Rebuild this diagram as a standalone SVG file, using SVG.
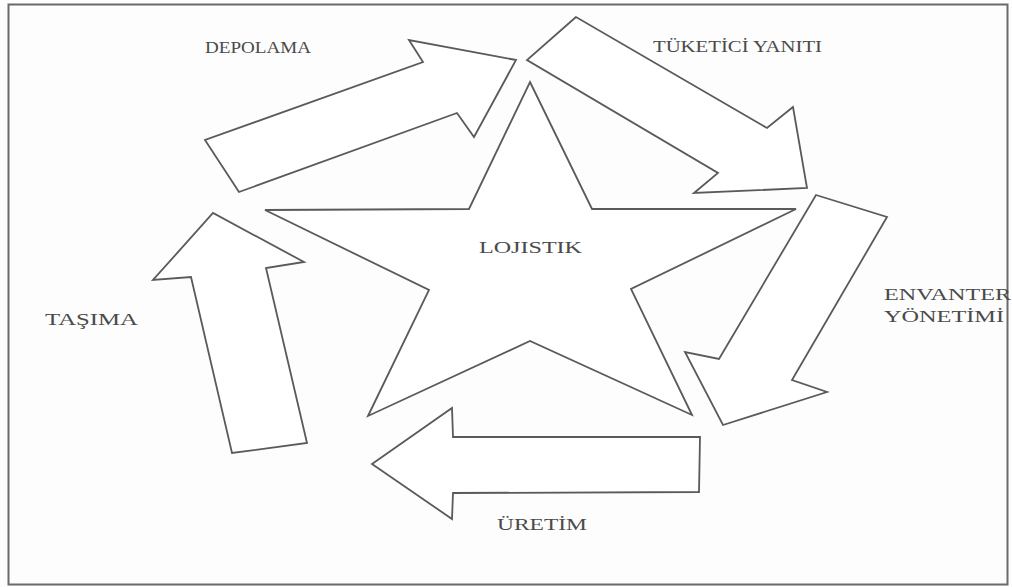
<svg xmlns="http://www.w3.org/2000/svg" width="1012" height="587" viewBox="0 0 1012 587">
<style>
.shape{fill:#ffffff;stroke:#5a5a5a;stroke-width:1.8;stroke-linejoin:miter}
.lbl{font-family:"Liberation Serif","Times New Roman",serif;font-size:17px;fill:#4a4a4a;lengthAdjust:spacingAndGlyphs}
</style>
<rect x="0" y="0" width="1012" height="587" fill="#fdfdfd"/>
<rect x="8.5" y="4.5" width="999" height="580" fill="none" stroke="#6a6a6a" stroke-width="2"/>
<g id="connectors">
<polygon id="arrow-depolama" class="shape" points="239,192 205,140 423,62 409,40 516,60 474,137 457,113"/>
<polygon id="arrow-tuketici" class="shape" points="576,17 527,60 718,173 694,193 807,188 793,107 767,128"/>
<polygon id="arrow-envanter" class="shape" points="816,195 887,217 792,380 827,392 723,425 685,352 719,359"/>
<polygon id="arrow-uretim" class="shape" points="700,437 453,437 452,408 372,464 452,519 453,493 699,492"/>
<polygon id="arrow-tasima" class="shape" points="307,443 266,268 304,262 213,213 153,280 191,277 232,453"/>
</g>
<g id="node-lojistik">
<polygon class="shape" points="530,82 592,209 796,209 631,289 692,415 530,341 368,416 429,290 265,210 469,209"/>
<text class="lbl" x="479" y="253" textLength="103" lengthAdjust="spacingAndGlyphs">LOJISTIK</text>
</g>
<g id="node-depolama">
<text class="lbl" x="205" y="53" textLength="106" lengthAdjust="spacingAndGlyphs">DEPOLAMA</text>
</g>
<g id="node-tuketici">
<text class="lbl" x="653" y="52" textLength="169" lengthAdjust="spacingAndGlyphs">TÜKETİCİ YANITI</text>
</g>
<g id="node-envanter">
<text class="lbl" x="884" y="300" textLength="127" lengthAdjust="spacingAndGlyphs">ENVANTER</text>
<text class="lbl" x="884" y="322" textLength="120" lengthAdjust="spacingAndGlyphs">YÖNETİMİ</text>
</g>
<g id="node-uretim">
<text class="lbl" x="497" y="530" textLength="90" lengthAdjust="spacingAndGlyphs">ÜRETİM</text>
</g>
<g id="node-tasima">
<text class="lbl" x="45" y="325" textLength="93" lengthAdjust="spacingAndGlyphs">TAŞIMA</text>
</g>
</svg>
